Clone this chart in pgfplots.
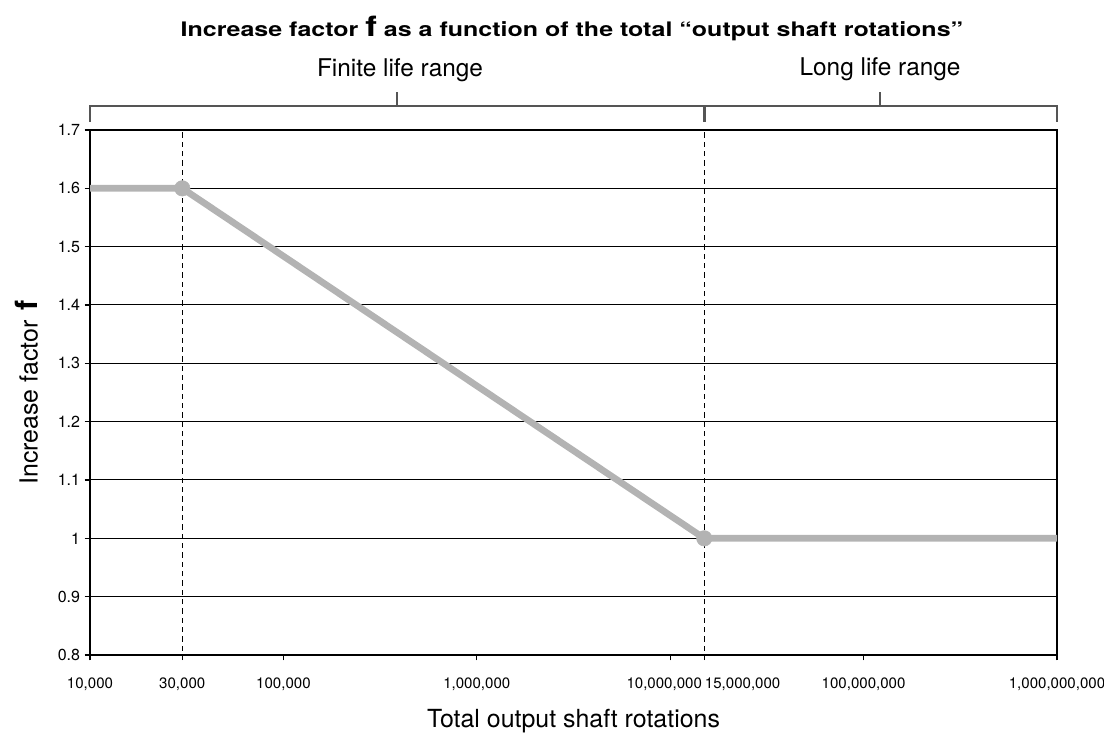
\documentclass[border=0pt]{standalone}
\usepackage{fontspec}
\setmainfont{TeX Gyre Heros}
\usepackage{pgfplots}
\pgfplotsset{compat=1.18}
\definecolor{linegray}{HTML}{B3B3B3}
\definecolor{brk}{HTML}{555555}
\begin{document}
\begin{tikzpicture}
\path[use as bounding box] (-67.5pt,-60pt) rectangle (760.5pt,491.25pt);
\begin{axis}[
  scale only axis, width=725.25pt, height=393.75pt,
  xmode=log, xmin=1e4, xmax=1e9, ymin=0.8, ymax=1.7,
  clip=false,
  axis line style={black, line width=0.9pt},
  ymajorgrids, grid style={black, line width=0.75pt},
  tick align=outside, xtick pos=bottom, ytick pos=left,
  major tick length=4pt, tick style={black, line width=0.9pt},
  xminorticks=false,
  xtick={1e4,1e5,1e6,1e7,1e8,1e9},
  xticklabels={{10,000},{100,000},{1,000,000},{\makebox[0pt]{10,000,000\hspace{9pt}}},{100,000,000},{1,000,000,000}},
  extra x ticks={3e4,1.5e7},
  extra x tick labels={{30,000},{\makebox[0pt][l]{\hspace{0.5pt}15,000,000}}},
  extra x tick style={grid=none, tick style={draw=none}},
  xticklabel style={font=\fontsize{11.3}{13}\selectfont, yshift=-9.5pt},
  ytick={0.8,0.9,1,1.1,1.2,1.3,1.4,1.5,1.6,1.7},
  yticklabels={0.8,0.9,1,1.1,1.2,1.3,1.4,1.5,1.6,1.7},
  yticklabel style={font=\fontsize{12}{14}\selectfont},
]
\addplot[black, line width=0.75pt, dash pattern=on 4pt off 3pt] coordinates {(3e4,0.791) (3e4,1.7)};
\addplot[black, line width=0.75pt, dash pattern=on 4pt off 3pt] coordinates {(1.5e7,0.791) (1.5e7,1.7)};
\addplot[linegray, line width=5pt, line join=round] coordinates {(1e4,1.6) (3e4,1.6) (1.5e7,1.0) (1e9,1.0)};
\addplot[only marks, mark=*, mark size=5.8pt, mark options={fill=linegray, draw=linegray}] coordinates {(3e4,1.6) (1.5e7,1.0)};

% bracket
\draw[brk, line width=1.5pt] ([yshift=6pt]rel axis cs:0,1) -- ([yshift=18pt]rel axis cs:0,1) -- ([yshift=18pt]rel axis cs:1,1) -- ([yshift=6pt]rel axis cs:1,1);
\draw[brk, line width=2.5pt] ([yshift=6pt]axis cs:1.5e7,1.7) -- ([yshift=18pt]axis cs:1.5e7,1.7);
\draw[brk, line width=1.5pt] ([yshift=18pt]rel axis cs:0.3175,1) -- ([yshift=28.5pt]rel axis cs:0.3175,1);
\draw[brk, line width=1.5pt] ([yshift=18pt]rel axis cs:0.817,1) -- ([yshift=28.5pt]rel axis cs:0.817,1);
\node[font=\fontsize{18.3}{20}\selectfont] at ([yshift=45pt]rel axis cs:0.3206,1) {Finite life range};
\node[font=\fontsize{18.3}{20}\selectfont] at ([yshift=45.75pt]rel axis cs:0.817,1) {Long life range};
% title
\node[font=\bfseries\fontsize{15}{17}\selectfont] at ([yshift=76pt]rel axis cs:0.4984,1) {\scalebox{1.25}[1]{Increase factor {\fontsize{21}{21}\selectfont f} as a function of the total “output shaft rotations”}};
% axis labels
\node[font=\fontsize{18.7}{20}\selectfont] at ([yshift=-49.5pt]rel axis cs:0.5,0) {Total output shaft rotations};
\node[font=\fontsize{18.7}{20}\selectfont, rotate=90] at ([xshift=-47.5pt]rel axis cs:0,0.5) {Increase factor\hspace{0.4em}{\bfseries\fontsize{23}{23}\selectfont f}};
\end{axis}
\end{tikzpicture}
\end{document}
